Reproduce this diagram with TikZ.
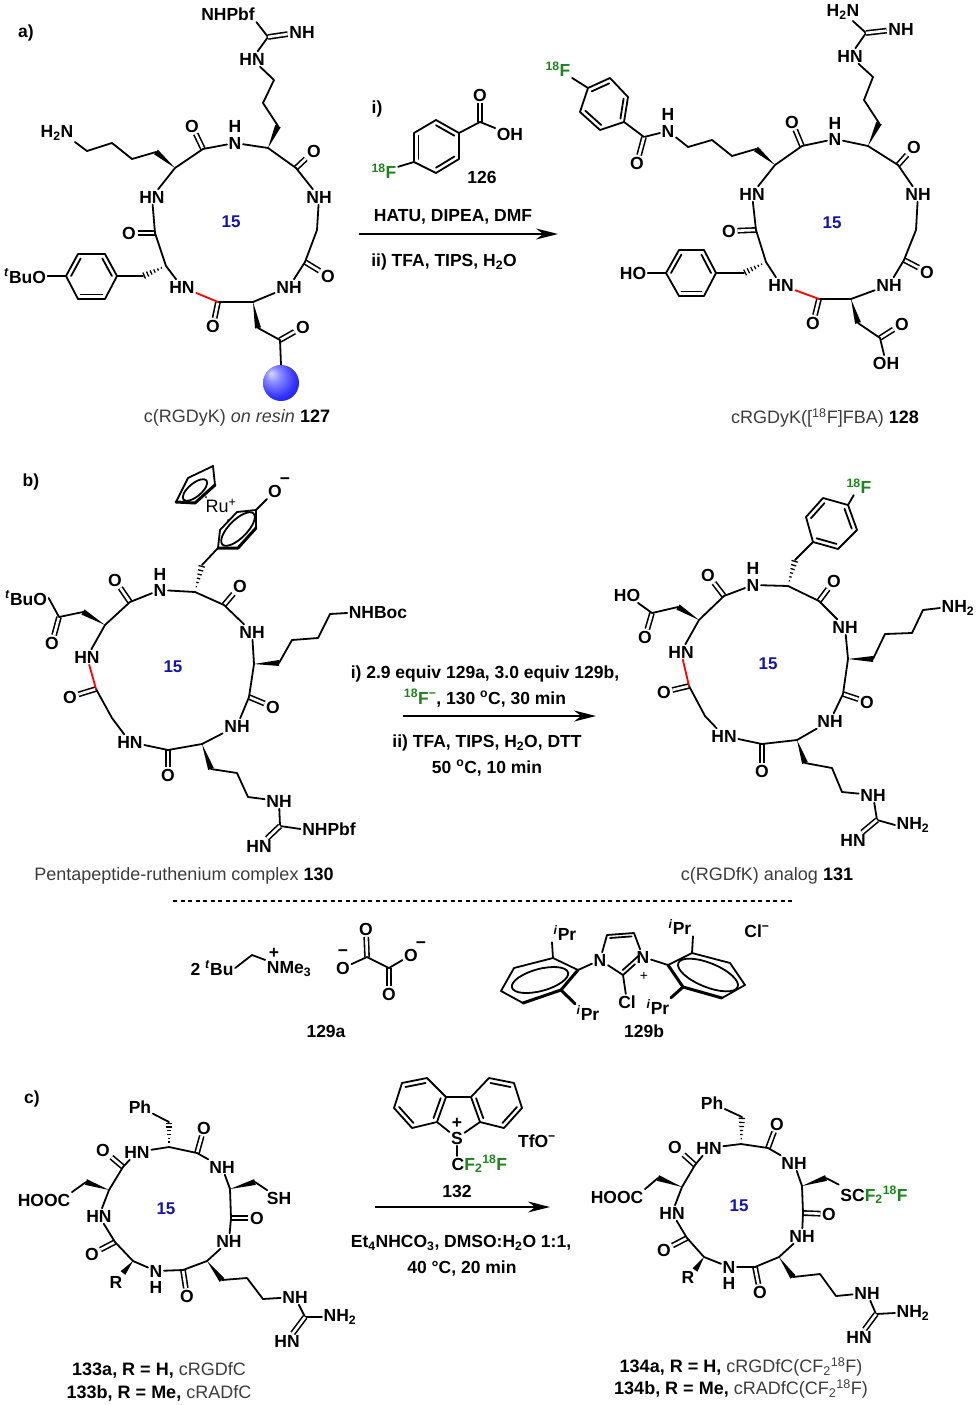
\documentclass[tikz,border=0pt]{standalone}
\usepackage{fontspec}
\setmainfont{Liberation Sans}
\usetikzlibrary{arrows.meta}
\usetikzlibrary{calc}

\definecolor{isogreen}{RGB}{30,130,30}
\definecolor{ringblue}{RGB}{20,20,170}
\definecolor{capgray}{RGB}{60,60,60}
\pgfdeclareradialshading{resinball}{\pgfpoint{-14bp}{14bp}}{color(0bp)=(blue!15!white); color(10bp)=(blue!45!white); color(26bp)=(blue!80!white); color(42bp)=(blue); color(50bp)=(blue!85!black)}

\newcommand\isoF{{\color{isogreen}\textsuperscript{18}F}}
\newcommand\isoCF{{\color{isogreen}F\textsubscript{2}\textsuperscript{18}F}}
\newcommand\cset[2]{\foreach \k/\xx/\yy in {#2} {\coordinate (#1\k) at (\xx,\yy);}}
\newcommand\nset[2]{\foreach \k/\xx/\yy/\txt in {#2} {\node[atom] (#1\k) at (\xx,\yy) {\txt};}}
\newcommand\wedgeb[2]{\fill ($(#2)!3pt!90:(#1)$) -- (#1) -- ($(#2)!3pt!-90:(#1)$) -- cycle;}
\newcommand\hashb[2]{\foreach \hs [evaluate=\hs as \hw using \hs*3.4] in {.2,.35,...,.96} {\draw[line width=1.3pt] ($(#1)!\hs!(#2)!\hw pt!90:(#2)$) -- ($(#1)!\hs!(#2)!\hw pt!-90:(#2)$);}}
\newcommand\arobond[3]{\draw[bond] ($(#1)!.2!(#3)$) -- ($(#2)!.2!(#3)$);}
\newcommand\benzene[1]{%
    \coordinate (#1c) at ($(#11)!.5!(#14)$);
    \draw[bond] (#11) -- (#12) -- (#13) -- (#14) -- (#15) -- (#16) -- cycle;
    \arobond{#11}{#12}{#1c}
    \arobond{#13}{#14}{#1c}
    \arobond{#15}{#16}{#1c}
}
\newcommand\peptide[2]{%
    \foreach \k in {2,5,8,11,14} {\draw[dbl] (#1\k) -- (#1O\k);}
    \draw[bond] (#112) -- (#113) -- (#114) -- (#115) -- (#11) -- (#12) -- (#13) -- (#14) -- (#15) -- (#16) -- (#17) -- (#18) -- (#19) -- (#110) -- (#111);
    \draw[bond,#2] (#111) -- (#112);
}

\begin{document}
\begin{tikzpicture}[x=1pt, y=-1pt,
    bond/.style={line width=1.8pt, line join=round, line cap=round},
    thickbond/.style={line width=3pt, line join=round, line cap=round},
    dbl/.style={double, double distance=2.6pt, line width=1.6pt},
    atom/.style={inner sep=1.5pt, font=\bfseries\fontsize{17.5}{20}\selectfont},
    reag/.style={inner sep=1pt, align=center, font=\bfseries\fontsize{17.5}{20}\selectfont},
    cpd/.style={inner sep=1pt, font=\bfseries\fontsize{17.5}{20}\selectfont},
    capt/.style={inner sep=1pt, text=capgray, align=center, font=\fontsize{18}{20}\selectfont},
    ringno/.style={inner sep=0pt, text=ringblue, font=\bfseries\fontsize{17}{19}\selectfont},
    rxn/.style={line width=2pt, -{Stealth[length=22pt, width=11pt]}}]
    \useasboundingbox (0,0) rectangle (979,1405);

    % panel a, resin peptide
    \node[atom] (lbla) at (26,33) {a)};
    \cset{p}{1/175/168, 2/203/149, 4/268/148, 5/296/168, 7/317/230, 8/305/262, 10/253/302, 11/218/302, 13/166/266, 14/155/233}
    \nset{p}{3/235/143/N, 3h/235/126/H, 6/319/197/NH, 9/289/287/NH, 12/182/287/HN, 15/152/197/HN}
    \nset{p}{O2/192/126/O, O5/314/151/O, O8/328/276/O, O11/213/326/O, O14/129/233/O}
    \peptide{p}{red}
    \node[ringno] (pnum) at (231,222) {15};
    % arg side chain
    \cset{pa}{1/278/126, 2/263/103, 3/274/80, 4/268/37}
    \nset{pa}{5/252/59/HN, 6/302/32/NH, 7/228/14/NHPbf}
    \wedgeb{p4}{pa1}
    \draw[bond] (pa1) -- (pa2) -- (pa3) -- (pa5) -- (pa4) -- (pa7.south east);
    \draw[dbl] (pa4) -- (pa6);
    % lys side chain
    \cset{pl}{1/156/152, 2/132/159, 3/112/143, 4/87/151}
    \nset{pl}{5/57/133/H\textsubscript{2}N}
    \wedgeb{p1}{pl1}
    \draw[bond] (pl1) -- (pl2) -- (pl3) -- (pl4) -- (pl5.south east);
    % tyr side chain
    \cset{pt}{1/117/276, 2/105/254, 3/78/254, 4/66/276, 5/78/299, 6/105/299, 7/143/276}
    \nset{pt}{8/25/276/\textsuperscript{\textit{t}}BuO}
    \benzene{pt}
    \hashb{p13}{pt7}
    \draw[bond] (pt7) -- (pt1);
    \draw[bond] (pt4) -- (pt8.east);
    % asp side chain
    \cset{pd}{1/258/328, 2/280/340, 3/281/365}
    \nset{pd}{4/303/327/O}
    \wedgeb{p10}{pd1}
    \draw[dbl] (pd2) -- (pd4);
    \draw[bond] (pd1) -- (pd2) -- (pd3);
    \shade[shading=resinball] (281,383) circle (18);
    \node[capt] (pcap) at (237,418) {c(RGDyK) \textit{on resin} {\color{black}\bfseries 127}};

    % reagents a
    \node[reag] (ri) at (377,109) {i)};
    \cset{fb}{1/436/120, 2/459/133, 3/459/159, 4/436/173, 5/414/162, 6/414/133, 7/480/122}
    \nset{fb}{8/480/95/O, 9/510/134/OH, 10/384/171/\isoF}
    \benzene{fb}
    \draw[dbl] (fb7) -- (fb8);
    \draw[bond] (fb2) -- (fb7) -- (fb9);
    \draw[bond] (fb5) -- (fb10);
    \node[cpd] (n126) at (482,177) {126};
    \node[reag] (hatu) at (453,217) {HATU, DIPEA, DMF};
    \coordinate (rxa1) at (359,234);
    \coordinate (rxa2) at (558,234);
    \draw[rxn] (rxa1) -- (rxa2);
    \node[reag] (tfa) at (444,262) {ii) TFA, TIPS, H\textsubscript{2}O};

    % panel a, product
    \cset{q}{1/775/165, 2/802/146, 4/868/146, 5/898/165, 7/916/230, 8/904/260, 10/851/299, 11/819/299, 13/766/262, 14/756/230}
    \nset{q}{3/835/139/N, 3h/835/123/H, 6/918/194/NH, 9/889/285/NH, 12/781/285/HN, 15/752/194/HN}
    \nset{q}{O2/792/122/O, O5/914/147/O, O8/927/272/O, O11/813/323/O, O14/729/231/O}
    \peptide{q}{red}
    \node[ringno] (qnum) at (832,223) {15};
    \cset{qa}{1/879/123, 2/864/100, 3/873/77, 4/866/33}
    \nset{qa}{5/850/56/HN, 6/901/29/NH, 7/843/12/H\textsubscript{2}N}
    \wedgeb{q4}{qa1}
    \draw[bond] (qa1) -- (qa2) -- (qa3) -- (qa5) -- (qa4) -- (qa7);
    \draw[dbl] (qa4) -- (qa6);
    \cset{ql}{1/756/149, 2/732/156, 3/712/140, 4/688/147, 5/644/137}
    \nset{ql}{6/668/131/N, 6h/668/114/H, 7/637/163/O, 8/558/69/\isoF}
    \wedgeb{q1}{ql1}
    \draw[bond] (ql1) -- (ql2) -- (ql3) -- (ql4) -- (ql6) -- (ql5);
    \draw[dbl] (ql5) -- (ql7);
    \cset{qb}{1/588/88, 2/610/78, 3/628/97, 4/624/122, 5/600/130, 6/580/112}
    \benzene{qb}
    \draw[bond] (qb4) -- (ql5);
    \draw[bond] (qb1) -- (ql8);
    \cset{qt}{1/716/273, 2/704/250, 3/679/250, 4/666/273, 5/679/296, 6/704/296, 7/744/273}
    \nset{qt}{8/633/273/HO}
    \benzene{qt}
    \hashb{q13}{qt7}
    \draw[bond] (qt7) -- (qt1);
    \draw[bond] (qt4) -- (qt8);
    \cset{qd}{1/858/323, 2/880/338}
    \nset{qd}{3/902/324/O, 4/886/363/OH}
    \wedgeb{q10}{qd1}
    \draw[dbl] (qd2) -- (qd3);
    \draw[bond] (qd1) -- (qd2) -- (qd4);
    \node[capt] (qcap) at (825,418) {cRGDyK([\textsuperscript{18}F]FBA) {\color{black}\bfseries 128}};

    % panel b, ruthenium complex
    \node[atom] (lblb) at (31,482) {b)};
    \cset{r}{1/195/592, 2/224/605, 4/254/664, 5/249/697, 7/202/744, 8/168/750, 10/112/718, 11/96/689, 13/105/625, 14/130/602}
    \nset{r}{3/252/632/NH, 6/237/726/NH, 9/130/742/HN, 12/87/657/HN, 15/160/590/N, 15h/160/574/H}
    \nset{r}{O2/240/586/O, O5/273/707/O, O8/168/775/O, O11/70/697/O, O14/115/580/O}
    \peptide{r}{red}
    \node[ringno] (rnum) at (173,667) {15};
    \cset{rl}{1/279/663, 2/292/640, 3/318/638, 4/330/614}
    \nset{rl}{5/378/613/NHBoc}
    \wedgeb{r4}{rl1}
    \draw[bond] (rl1) -- (rl2) -- (rl3) -- (rl4) -- (rl5.west);
    \cset{ra}{1/211/769, 2/237/773, 3/248/797, 4/280/826}
    \nset{ra}{5/279/801/NH, 6/329/829/NHPbf, 7/259/846/HN}
    \wedgeb{r7}{ra1}
    \draw[bond] (ra1) -- (ra2) -- (ra3) -- (ra5) -- (ra4) -- (ra6.west);
    \draw[dbl] (ra4) -- (ra7);
    \cset{rd}{1/83/612, 2/59/617}
    \nset{rd}{3/52/643/O, 4/26/598/\textsuperscript{\textit{t}}BuO}
    \wedgeb{r13}{rd1}
    \draw[dbl] (rd2) -- (rd3);
    \draw[bond] (rd1) -- (rd2) -- (rd4.east);
    \cset{rf}{1/218/548, 2/220/530, 3/237/512, 4/256/510, 5/256/528, 6/238/548, 7/202/565, c/238/529}
    \nset{rf}{8/275/491/O}
    \node[inner sep=0pt, font=\bfseries\fontsize{17.5}{20}\selectfont] (rfm) at (285,481) {−};
    \hashb{r1}{rf7}
    \draw[bond] (rf7) -- (rf1) -- (rf2) -- (rf3) -- (rf4) -- (rf5);
    \draw[bond] (rf4) -- (rf8);
    \draw[thickbond] (rf5) -- (rf6) -- (rf1);
    \draw[bond, rotate around={45:(rfc)}] (rfc) ellipse (22 and 9);
    \cset{rc}{1/176/502, 2/188/478, 3/213/466, 4/215/485, 5/195/503, c/195/490}
    \draw[bond] (rc1) -- (rc2) -- (rc3) -- (rc4);
    \draw[thickbond] (rc4) -- (rc5) -- (rc1);
    \draw[bond, rotate around={40:(rcc)}] (rcc) ellipse (15 and 6.5);
    \node[inner sep=0pt, font=\fontsize{18}{20}\selectfont] (rru) at (221,506) {Ru\textsuperscript{+}};
    \fill (206,497) circle (1);
    \fill (228,520) circle (1);
    \node[capt] (rcap) at (184,876) {Pentapeptide-ruthenium complex {\color{black}\bfseries 130}};

    % reagents b
    \node[reag] (rb1) at (485,674) {i) 2.9 equiv 129a, 3.0 equiv 129b,};
    \node[reag] (rb2) at (485,698) {\isoF{\color{isogreen}\textsuperscript{−}}, 130 \textsuperscript{o}C, 30 min};
    \coordinate (rxb1) at (403,716);
    \coordinate (rxb2) at (596,716);
    \draw[rxn] (rxb1) -- (rxb2);
    \node[reag] (rb3) at (487,743) {ii) TFA, TIPS, H\textsubscript{2}O, DTT};
    \node[reag] (rb4) at (487,768) {50 \textsuperscript{o}C, 10 min};

    % panel b, product
    \cset{s}{1/788/586, 2/819/601, 4/848/659, 5/843/694, 7/797/740, 8/762/744, 10/705/716, 11/689/686, 13/699/620, 14/724/596}
    \nset{s}{3/845/627/NH, 6/830/721/NH, 9/724/736/HN, 12/681/652/HN, 15/753/585/N, 15h/753/568/H}
    \nset{s}{O2/834/581/O, O5/867/702/O, O8/762/771/O, O11/664/692/O, O14/708/575/O}
    \peptide{s}{red}
    \node[ringno] (snum) at (768,664) {15};
    \cset{sl}{1/873/659, 2/885/634, 3/912/633, 4/923/610}
    \nset{sl}{5/958/608/NH\textsubscript{2}}
    \wedgeb{s4}{sl1}
    \draw[bond] (sl1) -- (sl2) -- (sl3) -- (sl4) -- (sl5.west);
    \cset{sa}{1/805/763, 2/832/768, 3/842/792, 4/877/820}
    \nset{sa}{5/873/795/NH, 6/913/825/NH\textsubscript{2}, 7/853/840/HN}
    \wedgeb{s7}{sa1}
    \draw[bond] (sa1) -- (sa2) -- (sa3) -- (sa5) -- (sa4) -- (sa6.west);
    \draw[dbl] (sa4) -- (sa7);
    \cset{sd}{1/678/607, 2/652/613}
    \nset{sd}{3/645/637/O, 4/627/595/HO}
    \wedgeb{s13}{sd1}
    \draw[dbl] (sd2) -- (sd3);
    \draw[bond] (sd1) -- (sd2) -- (sd4);
    \cset{sf}{1/823/498, 2/806/517, 3/813/542, 4/838/549, 5/857/530, 6/848/505, 7/795/560}
    \nset{sf}{8/859/486/\isoF}
    \benzene{sf}
    \hashb{s1}{sf7}
    \draw[bond] (sf7) -- (sf3);
    \draw[bond] (sf6) -- (sf8);
    \node[capt] (scap) at (767,876) {c(RGDfK) analog {\color{black}\bfseries 131}};

    % dashed divider
    \coordinate (div1) at (173,901);
    \coordinate (div2) at (793,901);
    \draw[line width=1.8pt, dash pattern=on 4pt off 3.5pt] (div1) -- (div2);

    % 129a
    \node[atom] (tbu) at (212,968) {2 \textsuperscript{\textit{t}}Bu};
    \cset{am}{1/252/955}
    \node[atom] (nme) at (289,969) {NMe\textsubscript{3}};
    \node[atom, inner sep=0pt] (npl) at (274,953) {+};
    \draw[bond] (tbu.east) -- (am1) -- (nme.north west);
    \cset{ox}{1/367/957, 2/389/968}
    \nset{ox}{3/343/968/O, 4/366/929/O, 5/389/994/O, 6/411/955/O}
    \node[atom, inner sep=0pt] (oxm1) at (343,953) {−};
    \node[atom, inner sep=0pt] (oxm2) at (421,945) {−};
    \draw[dbl] (ox1) -- (ox4);
    \draw[dbl] (ox2) -- (ox5);
    \draw[bond] (ox3) -- (ox1) -- (ox2) -- (ox6);
    \node[cpd] (n129a) at (326,1031) {129a};

    % 129b
    \cset{im}{1/623/975, 2/634/933, 3/607/935, c/622/950}
    \nset{im}{4/600/960/N, 5/643/957/N, 6/627/1002/Cl}
    \node[inner sep=0pt, font=\fontsize{14}{14}\selectfont] (impl) at (644,976) {+};
    \draw[bond] (im4) -- (im1) -- (im5) -- (im2) -- (im3) -- (im4);
    \arobond{im2}{im3}{imc}
    \arobond{im1}{im5}{imc}
    \draw[bond] (im1) -- (im6);
    \cset{ia}{1/578/970, 2/553/958, 3/514/968, 4/501/991, 5/523/1003, 6/561/990, c/540/980}
    \nset{ia}{7/565/933/\textsuperscript{\textit{i}}Pr, 8/588/1013/\textsuperscript{\textit{i}}Pr}
    \draw[bond] (ia6) -- (ia1) -- (ia2) -- (ia3) -- (ia4) -- (ia5);
    \draw[thickbond] (ia5) -- (ia6) -- (ia1);
    \draw[bond, rotate around={15:(iac)}] (iac) ellipse (29 and 11);
    \draw[bond] (ia1) -- (im4);
    \draw[bond] (ia2) -- (ia7.south west);
    \draw[thickbond] (ia6) -- (ia8.north west);
    \cset{ib}{1/668/965, 2/692/953, 3/730/963, 4/745/985, 5/722/998, 6/683/987, c/708/975}
    \nset{ib}{7/680/927/\textsuperscript{\textit{i}}Pr, 8/658/1007/\textsuperscript{\textit{i}}Pr}
    \draw[bond] (ib1) -- (ib2) -- (ib3) -- (ib4) -- (ib5);
    \draw[thickbond] (ib5) -- (ib6) -- (ib1);
    \draw[bond, rotate around={-22:(ibc)}] (ibc) ellipse (32 and 12);
    \draw[bond] (ib1) -- (im5);
    \draw[bond] (ib2) -- (ib7.south east);
    \draw[thickbond] (ib6) -- (ib8.north east);
    \node[atom] (clm) at (757,931) {Cl\textsuperscript{−}};
    \node[cpd] (n129b) at (644,1031) {129b};

    % panel c, peptide
    \node[atom] (lblc) at (32,1099) {c)};
    \cset{u}{1/169/1147, 2/197/1153, 4/230/1189, 5/231/1218, 7/207/1261, 8/183/1270, 10/133/1261, 11/115/1242, 13/109/1190, 14/123/1167}
    \nset{u}{3/222/1167/NH, 6/229/1241/NH, 9/156/1271/N, 9h/156/1287/H, 12/99/1216/HN, 15/137/1152/HN}
    \nset{u}{O2/204/1128/O, O5/257/1218/O, O8/187/1296/O, O11/92/1254/O, O14/103/1150/O}
    \peptide{u}{black}
    \node[ringno] (unum) at (166,1209) {15};
    \cset{uf}{1/169/1122}
    \nset{uf}{2/140/1107/Ph}
    \hashb{u1}{uf1}
    \draw[bond] (uf1) -- (uf2);
    \cset{us}{1/255/1182}
    \nset{us}{2/279/1198/SH}
    \wedgeb{u4}{us1}
    \draw[bond] (us1) -- (us2);
    \cset{ua}{1/222/1280, 2/247/1278, 3/263/1299, 4/305/1317}
    \nset{ua}{5/295/1297/NH, 6/340/1317/NH\textsubscript{2}, 7/287/1341/HN}
    \wedgeb{u7}{ua1}
    \draw[bond] (ua1) -- (ua2) -- (ua3) -- (ua5) -- (ua4) -- (ua6.west);
    \draw[dbl] (ua4) -- (ua7);
    \cset{ur}{1/123/1273}
    \nset{ur}{2/116/1282/R}
    \wedgeb{u10}{ur1}
    \cset{ud}{1/86/1182}
    \nset{ud}{2/44/1200/HOOC}
    \wedgeb{u13}{ud1}
    \draw[bond] (ud1) -- (ud2.north east);
    \node[capt] (ucap) at (159,1382) {{\color{black}\bfseries 133a, R = H,} cRGDfC\\[2.5pt]{\color{black}\bfseries 133b, R = Me,} cRADfC};

    % reagents c
    \cset{bl}{1/427/1078, 2/402/1083, 3/394/1108, 4/412/1128, 5/437/1122, 6/446/1097}
    \cset{br}{1/489/1078, 2/514/1083, 3/522/1108, 4/504/1128, 5/480/1122, 6/471/1097}
    \benzene{bl}
    \benzene{br}
    \node[atom] (sul) at (457,1138) {S};
    \node[atom, inner sep=0pt] (sulp) at (457,1123) {+};
    \draw[bond] (bl6) -- (br6);
    \draw[bond] (bl5) -- (sul) -- (br5);
    \node[atom, anchor=west] (cfg) at (450,1164) {C\isoCF};
    \coordinate (cft) at (457,1156);
    \draw[bond] (sul) -- (cft);
    \node[atom] (tfo) at (537,1141) {TfO\textsuperscript{−}};
    \node[cpd] (n132) at (457,1191) {132};
    \coordinate (rxc1) at (375,1207);
    \coordinate (rxc2) at (550,1207);
    \draw[rxn] (rxc1) -- (rxc2);
    \node[reag] (rc1l) at (461,1243) {Et\textsubscript{4}NHCO\textsubscript{3}, DMSO:H\textsubscript{2}O 1:1,};
    \node[reag] (rc2l) at (462,1268) {40 °C, 20 min};

    % panel c, product
    \cset{v}{1/741/1144, 2/768/1148, 4/802/1186, 5/803/1213, 7/779/1257, 8/755/1267, 10/704/1257, 11/687/1238, 13/682/1187, 14/695/1165}
    \nset{v}{3/794/1163/NH, 6/802/1236/NH, 9/729/1267/N, 9h/729/1283/H, 12/672/1213/HN, 15/709/1148/HN}
    \nset{v}{O2/777/1124/O, O5/829/1214/O, O8/760/1292/O, O11/664/1250/O, O14/675/1147/O}
    \peptide{v}{black}
    \node[ringno] (vnum) at (739,1206) {15};
    \cset{vf}{1/742/1117}
    \nset{vf}{2/712/1103/Ph}
    \hashb{v1}{vf1}
    \draw[bond] (vf1) -- (vf2);
    \cset{vs}{1/826/1178}
    \nset{vs}{2/874/1195/SC\isoCF}
    \wedgeb{v4}{vs1}
    \draw[bond] (vs1) -- (vs2.north west);
    \cset{va}{1/793/1277, 2/820/1274, 3/836/1296, 4/876/1314}
    \nset{va}{5/867/1293/NH, 6/913/1313/NH\textsubscript{2}, 7/859/1337/HN}
    \wedgeb{v7}{va1}
    \draw[bond] (va1) -- (va2) -- (va3) -- (va5) -- (va4) -- (va6.west);
    \draw[dbl] (va4) -- (va7);
    \cset{vr}{1/695/1270}
    \nset{vr}{2/688/1277/R}
    \wedgeb{v10}{vr1}
    \cset{vd}{1/658/1178}
    \nset{vd}{2/617/1197/HOOC}
    \wedgeb{v13}{vd1}
    \draw[bond] (vd1) -- (vd2.north east);
    \node[capt] (vcap) at (741,1378) {{\color{black}\bfseries 134a, R = H,} cRGDfC(CF\textsubscript{2}\textsuperscript{18}F)\\[2.5pt]{\color{black}\bfseries 134b, R = Me,} cRADfC(CF\textsubscript{2}\textsuperscript{18}F)};
\end{tikzpicture}
\end{document}
